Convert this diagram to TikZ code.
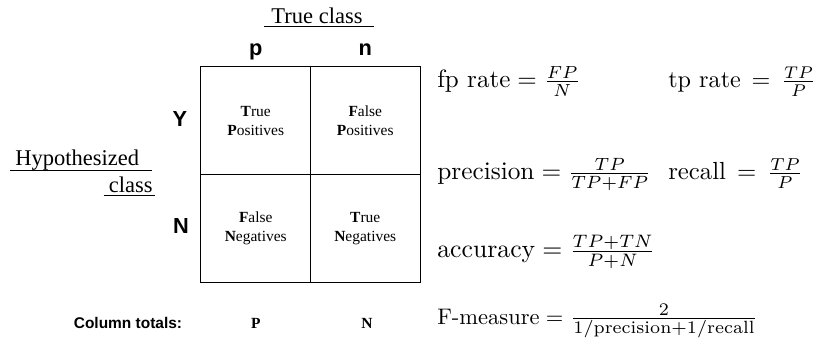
\documentclass[tikz,border=0pt]{standalone}
\usepackage{amsmath}
\usepackage{graphicx}
\usepackage{fontspec}
\newfontfamily\timesfont{Liberation Serif}
\newfontfamily\helvfont{Liberation Sans}
\usetikzlibrary{calc}

% formula typeset at 10pt, then enlarged
\newcommand{\scaledeq}[2]{\scalebox{#1}{$#2$}}

\begin{document}
\begin{tikzpicture}[
    x=0.025cm, y=-0.025cm,
    cell/.style={
        draw=black,
        line width=0.7pt,
        minimum width=2.7375cm,
        minimum height=2.6875cm,
        align=center,
        font=\timesfont\fontsize{11}{13.5}\selectfont
    },
    classlabel/.style={font=\helvfont\bfseries\fontsize{15.5}{18}\selectfont},
    heading/.style={font=\timesfont\fontsize{16}{19}\selectfont, inner sep=0pt},
    total/.style={font=\timesfont\bfseries\fontsize{11}{13}\selectfont},
    formula/.style={anchor=base west, inner sep=0pt, font=\fontsize{10}{12}\selectfont},
    uline/.style={line width=0.7pt}
]

\useasboundingbox (0,0) rectangle (817,346);

% ===== Confusion matrix =====
\node[cell] (tp) at (255.75,120.75) {\textbf{T}rue\\\textbf{P}ositives};
\node[cell] (fp) at (365.25,120.75) {\textbf{F}alse\\\textbf{P}ositives};
\node[cell] (fn) at (255.75,228.25) {\textbf{F}alse\\\textbf{N}egatives};
\node[cell] (tn) at (365.25,228.25) {\textbf{T}rue\\\textbf{N}egatives};

% Column and row labels
\node[classlabel, anchor=base] (colp) at (255.75,56) {p};
\node[classlabel, anchor=base] (coln) at (365.25,56) {n};
\node[classlabel] (rowy) at (180,119) {Y};
\node[classlabel] (rown) at (181,226) {N};

% Headings
\node[heading, anchor=base] (trueclass) at (317,24) {True class};
\draw[uline] ($(trueclass.base west)+(-7,2.5)$) -- ($(trueclass.base east)+(11,2.5)$);

\node[heading, anchor=base west] (hypo) at (15,166) {Hypothesized};
\draw[uline] ($(hypo.base west)+(-5,4)$) -- ($(hypo.base east)+(13,4)$);
\node[heading, anchor=base east] (hclass) at (153,193) {class};
\draw[uline] ($(hclass.base west)+(-5,2.5)$) -- ($(hclass.base east)+(2,2.5)$);

% Column totals
\node[font=\helvfont\bfseries\fontsize{11}{13}\selectfont] (totals) at (128,323) {Column totals:};
\node[total] (totp) at (255.75,323) {P};
\node[total] (totn) at (367,323) {N};

% ===== Formulas =====
\node[formula] (fprate) at (437,88) {\scaledeq{1.78}{\text{fp rate} = \frac{FP}{N}}};
\node[formula] (tprate) at (668,88) {\scaledeq{1.72}{\text{tp rate} \,=\, \frac{TP}{P}}};
\node[formula] (prec) at (437,180) {\scaledeq{1.8}{\text{precision} = \frac{TP}{TP+FP}}};
\node[formula] (recall) at (668,180) {\scaledeq{1.76}{\text{recall} \,=\, \frac{TP}{P}}};
\node[formula] (acc) at (437,258) {\scaledeq{1.83}{\text{accuracy} = \frac{TP+TN}{P+N}}};
\node[formula] (fmeas) at (437,325) {\scaledeq{1.6}{\text{F-measure} =}\hspace{5pt}\scaledeq{1.8}{\frac{2}{1/\text{precision}+1/\text{recall}}}};

\end{tikzpicture}
\end{document}
